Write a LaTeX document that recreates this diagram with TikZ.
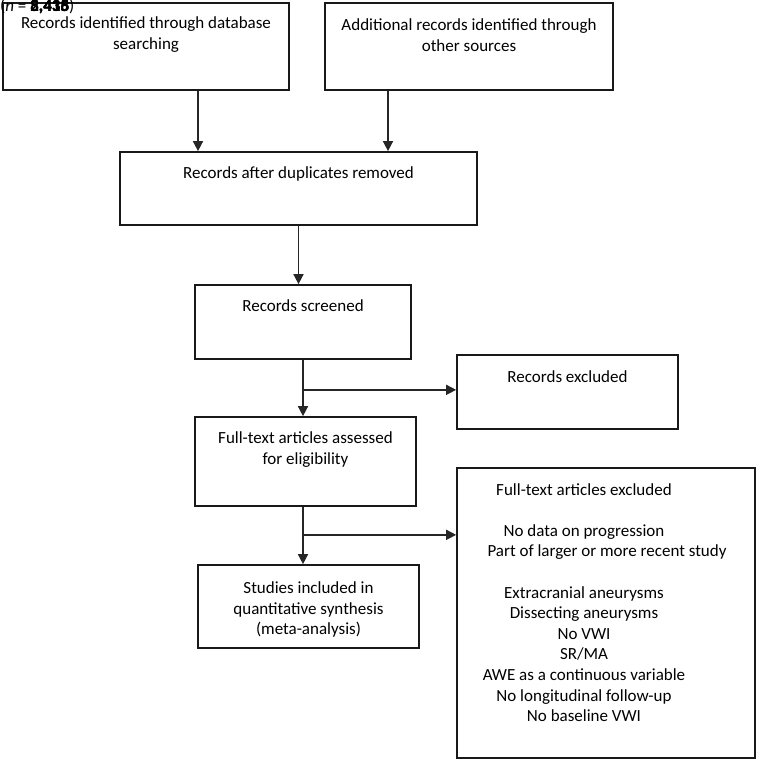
\documentclass[tikz,border=0pt]{standalone}
\usepackage{fontspec}
\setmainfont{Carlito}
\usetikzlibrary{arrows.meta, positioning, calc}

\begin{document}
\begin{tikzpicture}[
    x=1pt, y=-1pt,
    block/.style={rectangle, draw=black!90, line width=1.7pt, inner sep=0pt},
    lbl/.style={inner sep=0pt, align=center, font=\fontsize{17}{20.6}\selectfont},
    arrow/.style={line width=1.5pt, draw=black!85, -{Triangle[length=10pt, width=10pt]}}
  ]
  \useasboundingbox (0,0) rectangle (760,761);
  % boxes
  \node (ident)  [block, minimum width=286pt, minimum height=87pt]  at (146,46.5)  {};
  \node (other)  [block, minimum width=288pt, minimum height=87pt]  at (469,46.5)  {};
  \node (dup)    [block, minimum width=357pt, minimum height=73pt]  at (298.5,188.5) {};
  \node (screen) [block, minimum width=216pt, minimum height=74pt]  at (303,322)   {};
  \node (recex)  [block, minimum width=221pt, minimum height=74pt]  at (567.5,392) {};
  \node (full)   [block, minimum width=221pt, minimum height=89pt]  at (305.5,461.5) {};
  \node (incl)   [block, minimum width=221pt, minimum height=83pt]  at (308.5,606.5) {};
  \node (ftex)   [block, minimum width=298pt, minimum height=290pt] at (606,613)   {};

  % texts
  \node (nlbl) [anchor=base west, inner sep=0pt, font=\fontsize{17}{18}\selectfont] at (0,11)
    {(\textit{n} = \rlap{\textbf{3,415}}\rlap{\textbf{8,416}}\rlap{\textbf{5,438}}\textbf{2,435})};
  \node (identT)  [lbl, below=14.5pt of ident.north]  {Records identified through database\\searching};
  \node (otherT)  [lbl, below=16.5pt of other.north]  {Additional records identified through\\other sources};
  \node (dupT)    [lbl, below=15.5pt of dup.north]    {Records after duplicates removed};
  \node (screenT) [lbl, below=15.5pt of screen.north] {Records screened};
  \node (recexT)  [lbl, below=16.5pt of recex.north] {Records excluded};
  \node (fullT)   [lbl, below=15.5pt of full.north]   {Full-text articles assessed\\for eligibility};
  \node (inclT)   [lbl, below=17.5pt of incl.north] {Studies included in\\quantitative synthesis\\(meta-analysis)};
  \node (ftexT)   [lbl, below=16pt of ftex.north, xshift=-22pt]
    {Full-text articles excluded\\[20.6pt]
     No data on progression\\
     \hspace*{46pt}Part of larger or more recent study\\[20.6pt]
     Extracranial aneurysms\\
     Dissecting aneurysms\\
     No VWI\\
     SR/MA\\
     AWE as a continuous variable\\
     No longitudinal follow-up\\
     No baseline VWI};

  % connectors
  \coordinate (identOut) at ([xshift=52pt]ident.south);
  \coordinate (otherOut) at ([xshift=-81pt]other.south);
  \draw [arrow] (identOut) -- (identOut |- dup.north);
  \draw [arrow] (otherOut) -- (otherOut |- dup.north);
  \draw [arrow] (dup.south) -- (dup.south |- screen.north);
  \draw [arrow] (screen.south) -- (screen.south |- full.north);
  \coordinate (br1) at ($(screen.south)+(0,30)$);
  \draw [arrow] (br1) -- (br1 -| recex.west);
  \draw [arrow] (full.south -| screen.south) -- (incl.north -| screen.south);
  \coordinate (br2) at ($(full.south -| screen.south)+(0,28)$);
  \draw [arrow] (br2) -- (br2 -| ftex.west);
\end{tikzpicture}
\end{document}
